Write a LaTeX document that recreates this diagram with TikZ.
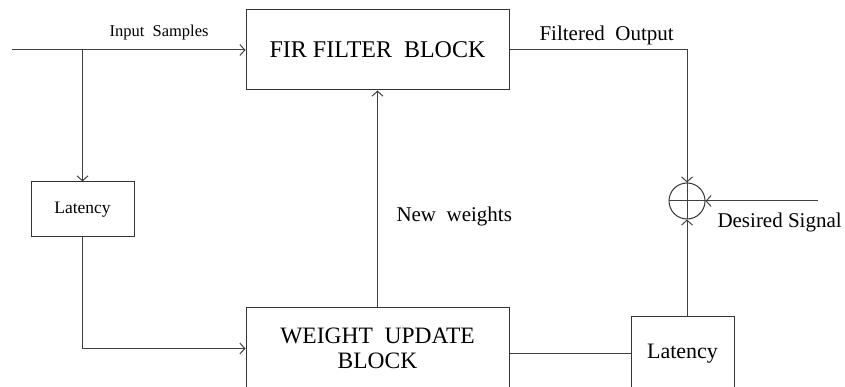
\documentclass[tikz,border=0pt]{standalone}
\usepackage{fontspec}
\setmainfont{Liberation Serif}
\usetikzlibrary{arrows.meta,positioning}

\begin{document}
\begin{tikzpicture}[x=1pt,y=-1pt,
      line width=1pt,
      block/.style={draw=black!80,inner sep=0pt,align=center,minimum width=263pt},
      latbox/.style={draw=black!80,inner sep=0pt,minimum width=103pt},
      wire/.style={draw=black!75},
      arr/.style={wire,-{Straight Barb[length=5pt,width=11pt]}},
      lbl/.style={inner sep=0pt,font=\fontsize{21}{24}\selectfont}]
    \useasboundingbox (0,0) rectangle (845,387);
    \node[block,minimum height=80pt,font=\fontsize{24}{27}\selectfont] (fir) at (377.5,50) {FIR FILTER\ \ BLOCK};
    \node[block,minimum height=82pt,anchor=north,font=\fontsize{23.5}{25}\selectfont] (wub) at (377.5,307) {WEIGHT\ \ UPDATE\\BLOCK};
    \node[latbox,minimum height=55pt,font=\fontsize{17.5}{20}\selectfont] (latin) at (82.5,209.5) {Latency};
    \node[latbox,minimum height=74pt,anchor=north,font=\fontsize{22}{24}\selectfont] (latout) at (682.5,316) {Latency};
    \node[circle,draw=black!80,minimum size=36pt,inner sep=0pt] (sum) at (687,201) {};
    \draw[wire] (sum.west) -- (sum.east) (sum.north) -- (sum.south);
    \coordinate (src) at (12,50);
    \coordinate (des) at (818,201);
    \coordinate (tap) at (latin.north |- src);
    % input side
    \draw[arr] (src) -- (fir.west);
    \draw[arr] (tap) -- (latin.north);
    \draw[arr] (latin.south) |- (wub.west);
    \node[lbl,anchor=base,font=\fontsize{16.5}{18}\selectfont] (inlbl) at (159,37) {Input\ \ Samples};
    % weights
    \draw[arr] (wub.north) -- (fir.south);
    \node[lbl,anchor=base west] (nwlbl) at (396,222) {New\ \ weights};
    % error path
    \draw[arr] (fir.east) -| (sum.north);
    \node[lbl,anchor=base west] (folbl) at (539,41) {Filtered\ \ Output};
    \draw[arr] (des) -- (sum.east);
    \node[lbl,anchor=base west] (dslbl) at (717,228) {Desired\ Signal};
    \draw[wire] (latout.west -| wub.east) -- (latout.west);
    \draw[arr] (latout.north -| sum.south) -- (sum.south);
  \end{tikzpicture}
\end{document}
